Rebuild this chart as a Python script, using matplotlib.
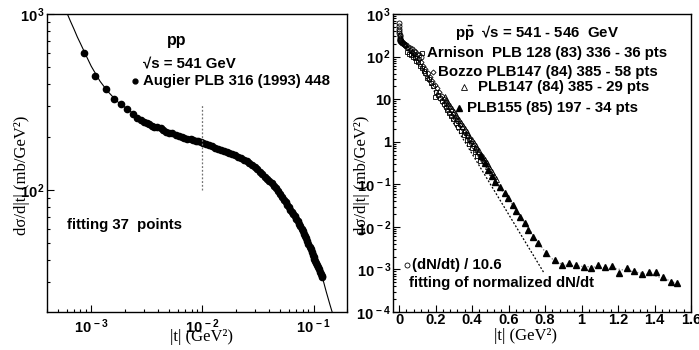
import numpy as np
import matplotlib
matplotlib.use("Agg")
import matplotlib.pyplot as plt
from matplotlib.lines import Line2D
from matplotlib.ticker import MultipleLocator, LogLocator, NullFormatter

plt.rcParams['font.family'] = ['Liberation Sans', 'DejaVu Sans']
plt.rcParams['font.weight'] = 'bold'
plt.rcParams['mathtext.fontset'] = 'custom'
plt.rcParams['mathtext.rm'] = 'Liberation Sans:bold'
plt.rcParams['mathtext.bf'] = 'Liberation Sans:bold'
plt.rcParams['mathtext.it'] = 'Liberation Sans:bold'
plt.rcParams['mathtext.default'] = 'rm'

# ---- left panel: Augier PLB 316 (1993) 448, sqrt(s) = 541 GeV
t_aug = [8.6e-4, 1.09e-3, 1.37e-3, 1.6e-3, 1.86e-3, 2.11e-3, 2.39e-3, 2.6e-3, 2.8e-3, 2.98e-3,
         3.15e-3, 3.3e-3, 3.5e-3, 3.67e-3, 3.9e-3, 4.2e-3, 4.45e-3, 4.67e-3, 5.0e-3, 5.36e-3,
         5.8e-3, 6.2e-3, 6.5e-3, 6.8e-3, 7.3e-3, 7.85e-3, 8.3e-3, 8.7e-3, 9.2e-3, 9.7e-3,
         0.0102, 0.0108, 0.0115, 0.0122, 0.013, 0.0138, 0.0146, 0.0155, 0.0165, 0.0175,
         0.0186, 0.0198, 0.021, 0.0222, 0.0235, 0.025, 0.0265, 0.028, 0.0295, 0.031,
         0.0327, 0.0345, 0.0363, 0.0382, 0.040, 0.042, 0.044, 0.046, 0.048, 0.050,
         0.052, 0.054, 0.056, 0.058, 0.060, 0.062, 0.064, 0.066, 0.068, 0.070,
         0.072, 0.074, 0.076, 0.078, 0.080, 0.082, 0.084, 0.086, 0.088, 0.090,
         0.092, 0.094, 0.096, 0.098, 0.100, 0.102, 0.104, 0.106, 0.108, 0.110,
         0.112, 0.114, 0.116, 0.118, 0.120]
y_aug = [603, 446, 375, 328, 307, 288, 270, 257, 249, 242,
         239, 236, 232, 229, 227, 224, 218, 214, 212, 210,
         205, 203, 199, 197, 196, 194, 192, 191, 189, 187,
         185, 182, 180, 177, 174, 171, 168, 166, 164, 163,
         161, 158, 155, 152, 149, 146, 142, 138, 134.5, 131,
         127, 123, 119, 115, 112, 109, 105.5, 102.5, 99, 95,
         91.5, 88, 85.3, 82.6, 80, 77.5, 75.2, 73, 70.8, 68.8,
         66.9, 64.5, 62.3, 60.3, 58.3, 56.6, 55.0, 53.1, 51.3, 49.5,
         47.8, 46.2, 44.6, 43, 41.5, 40.4, 39.4, 38.5, 37.4, 36.4,
         35.4, 34.4, 33.5, 32.7, 32.0]

t_fit = [6.1e-4, 6.5e-4, 7e-4, 7.5e-4, 8e-4, 9e-4, 1.0e-3, 1.2e-3, 1.4e-3, 1.7e-3, 2.0e-3,
         2.5e-3, 3e-3, 4e-3, 5e-3, 7e-3, 0.01, 0.015, 0.02, 0.025, 0.03, 0.04, 0.05,
         0.06, 0.07, 0.08, 0.09, 0.1, 0.11, 0.12, 0.13, 0.14, 0.148]
y_fit = [1000, 910, 820, 740, 680, 580, 505, 415, 365, 320, 296,
         266, 244, 226, 213, 197, 186, 167, 157, 146, 134, 112, 95,
         80, 68.8, 58.3, 49.5, 42, 36.4, 32, 26.5, 22.5, 20]

# ---- right panel: p pbar, sqrt(s) = 541 - 546 GeV
t_dn = [0.0008, 0.0012, 0.0016, 0.002, 0.0025, 0.003, 0.0035, 0.004, 0.005, 0.006,
        0.007, 0.008, 0.01, 0.012, 0.015, 0.018, 0.022, 0.026, 0.03, 0.035,
        0.04, 0.05, 0.06, 0.07, 0.08, 0.09, 0.1, 0.11, 0.12]
y_dn = [600, 510, 440, 390, 350, 320, 298, 280, 262, 250,
        242, 236, 228, 222, 216, 211, 205, 200, 195, 189,
        183, 172, 160, 148, 137, 126, 116, 106, 97]

t_arn = [0.045, 0.055, 0.065, 0.075, 0.085, 0.095, 0.105, 0.115, 0.125, 0.135,
         0.145, 0.155, 0.165, 0.175, 0.185, 0.195, 0.205, 0.215, 0.225, 0.235,
         0.245, 0.255, 0.265, 0.275, 0.285, 0.295, 0.31, 0.325, 0.34, 0.355,
         0.37, 0.385, 0.40, 0.415, 0.43, 0.445]
y_arn = [126, 118, 110, 100, 95, 80, 75, 60, 55, 45,
         41, 32, 29, 23.6, 20, 11.5, 14.5, 12.5, 10.8, 9.0,
         7.8, 6.6, 5.6, 4.8, 4.1, 3.5, 2.8, 2.2, 1.75, 1.4,
         1.1, 0.88, 0.7, 0.56, 0.45, 0.36]

t_boz = [0.032, 0.045, 0.058, 0.07, 0.083, 0.095, 0.108, 0.12, 0.133, 0.145,
         0.158, 0.17, 0.183, 0.195, 0.208, 0.22, 0.233, 0.245, 0.258, 0.27,
         0.283, 0.295, 0.308, 0.32, 0.333, 0.345, 0.358, 0.37, 0.383, 0.395,
         0.408, 0.42, 0.433, 0.445, 0.458, 0.47]
y_boz = [174, 158, 144, 131, 117, 105, 89, 74, 60, 50,
         41, 33, 27, 22, 18.2, 14.8, 12, 10, 8.1, 6.8,
         5.5, 4.5, 3.7, 3.1, 2.5, 2.1, 1.7, 1.4, 1.15, 0.95,
         0.79, 0.66, 0.54, 0.45, 0.36, 0.30]

t_b147 = [0.25, 0.26, 0.27, 0.28, 0.29, 0.30, 0.31, 0.32, 0.33, 0.34,
          0.35, 0.36, 0.37, 0.38, 0.39, 0.40, 0.41, 0.42, 0.43, 0.44,
          0.45, 0.46, 0.47, 0.48, 0.49, 0.50, 0.51, 0.52, 0.53]
y_b147 = [11.2, 9.5, 8.1, 6.9, 5.9, 5.0, 4.3, 3.7, 3.2, 2.7,
          2.3, 2.0, 1.7, 1.45, 1.24, 1.07, 0.92, 0.79, 0.68, 0.59,
          0.50, 0.43, 0.37, 0.32, 0.27, 0.23, 0.19, 0.16, 0.13]

t_b155 = [0.45, 0.47, 0.49, 0.51, 0.525, 0.552, 0.579, 0.597, 0.625, 0.643,
          0.661, 0.689, 0.707, 0.734, 0.761, 0.807, 0.852, 0.894, 0.934, 0.971,
          1.011, 1.053, 1.089, 1.131, 1.168, 1.208, 1.25, 1.29, 1.332, 1.368,
          1.408, 1.444, 1.49, 1.526]
y_b155 = [0.45, 0.31, 0.22, 0.155, 0.116, 0.088, 0.062, 0.047, 0.033, 0.023,
          0.0175, 0.0122, 0.0085, 0.0059, 0.0041, 0.0024, 0.00168, 0.00128, 0.00141, 0.00128,
          0.00117, 0.00107, 0.00128, 0.00117, 0.00122, 0.00082, 0.00107, 0.00094, 0.00079, 0.00089,
          0.00089, 0.00066, 0.00052, 0.00048]

t_norm = [0.0, 0.795]
y_norm = [360, 8.2e-4]

t_full = [0.3, 0.4, 0.45, 0.5, 0.55, 0.6, 0.65, 0.7, 0.75, 0.8, 0.85, 0.9,
          1.0, 1.1, 1.2, 1.3, 1.4, 1.45, 1.53]
y_full = [4.5, 0.95, 0.45, 0.2, 0.085, 0.045, 0.022, 0.0105, 0.0052, 0.0026, 0.0016, 0.00128,
          0.00118, 0.00112, 0.00102, 0.00086, 0.00071, 0.00062, 0.00045]

W, H = 699, 350


def fx(px):
    return px / W


def fy(py):
    return 1 - py / H


fig = plt.figure(figsize=(6.99, 3.5), dpi=100)
ax1 = fig.add_axes([fx(47), fy(312), 300 / W, 298 / H])
ax2 = fig.add_axes([fx(393), fy(312), 298 / W, 298 / H])

# left panel
ax1.plot(t_fit, y_fit, color='black', lw=0.8)
ax1.plot(t_aug, y_aug, 'o', color='black', ms=4.5, mec='black')
ax1.plot([0.01, 0.01], [100, 310], color='0.45', lw=0.9, ls=(0, (1.5, 1.5)))
ax1.set_xscale('log')
ax1.set_yscale('log')
ax1.set_xlim(4e-4, 0.2)
ax1.set_ylim(20.3, 1000)
ax1.set_xticks([1e-3, 1e-2, 1e-1], [r'$10^{\,-3}$', r'$10^{\,-2}$', r'$10^{\,-1}$'])
ax1.set_yticks([100, 1000], [r'$10^{\,2}$', r'$10^{\,3}$'])
ax1.xaxis.set_minor_formatter(NullFormatter())
ax1.yaxis.set_minor_formatter(NullFormatter())
ax1.tick_params(which='both', direction='in', labelsize=10.5, top=False, right=False)
ax1.tick_params(which='major', length=5, width=0.8)
ax1.tick_params(which='minor', length=2.5, width=0.8)
ax1.tick_params(axis='x', pad=4)
ax1.tick_params(axis='y', pad=1)

# right panel
ax2.plot(t_norm, y_norm, color='black', lw=0.9, ls=(0, (1.5, 1.5)))
ax2.plot(t_full, y_full, color='0.5', lw=0.9, ls=(0, (1, 1.5)))
ax2.plot(t_arn, y_arn, 's', mfc='none', mec='black', ms=3.5, mew=0.6)
ax2.plot(t_boz, y_boz, 'D', mfc='none', mec='black', ms=2.6, mew=0.6)
ax2.plot(t_b147, y_b147, '^', mfc='none', mec='black', ms=3.8, mew=0.6)
ax2.plot(t_dn, y_dn, 'o', mfc='none', mec='black', ms=3.6, mew=0.6)
ax2.plot(t_b155, y_b155, '^', color='black', ms=4.2)
ax2.set_yscale('log')
ax2.set_xlim(-0.033, 1.596)
ax2.set_ylim(1e-4, 1e3)
ax2.set_xticks([0, 0.2, 0.4, 0.6, 0.8, 1.0, 1.2, 1.4, 1.6],
               ['0', '0.2', '0.4', '0.6', '0.8', '1', '1.2', '1.4', '1.6'])
ax2.xaxis.set_minor_locator(MultipleLocator(0.04))
ax2.set_yticks([1e-4, 1e-3, 1e-2, 1e-1, 1, 10, 100, 1000],
               [r'$10^{\,-4}$', r'$10^{\,-3}$', r'$10^{\,-2}$', r'$10^{\,-1}$',
                '1', '10', r'$10^{\,2}$', r'$10^{\,3}$'])
ax2.yaxis.set_minor_locator(LogLocator(base=10, subs=np.arange(2, 10), numticks=20))
ax2.yaxis.set_minor_formatter(NullFormatter())
ax2.tick_params(which='both', direction='in', labelsize=10.5, top=False, right=False)
ax2.tick_params(which='major', length=5, width=0.8)
ax2.tick_params(which='minor', length=2.5, width=0.8)
ax2.tick_params(axis='x', pad=0.5)
ax2.tick_params(axis='y', pad=1)

for ax in (ax1, ax2):
    for s in ax.spines.values():
        s.set_linewidth(1.0)

# axis titles
serif = ['Liberation Serif', 'DejaVu Serif']
ylab = 'd\u03c3/d|t| (mb/GeV\u00b2)'
xlab = '|t| (GeV\u00b2)'
fig.text(fx(22), fy(175), ylab, rotation=90, ha='center', va='center',
         family=serif, fontsize=12, fontweight='normal')
fig.text(fx(362), fy(175), ylab, rotation=90, ha='center', va='center',
         family=serif, fontsize=12, fontweight='normal')
fig.text(fx(202), fy(337), xlab, ha='center', va='center', family=serif, fontsize=12,
         fontweight='normal')
fig.text(fx(525), fy(336), xlab, ha='center', va='center', family=serif, fontsize=12,
         fontweight='normal')

# left annotations
fs = 10.8
fig.text(fx(167), fy(40), 'pp', ha='left', va='center', fontsize=11.5)
fig.text(fx(143), fy(63), '\u221as = 541 GeV', ha='left', va='center', fontsize=fs)
fig.add_artist(Line2D([fx(135)], [fy(81)], marker='o', color='black', ms=3.5,
                      transform=fig.transFigure))
fig.text(fx(143), fy(81), 'Augier PLB 316 (1993) 448', ha='left', va='center', fontsize=fs)
fig.text(fx(67), fy(225), 'fitting 37  points', ha='left', va='center', fontsize=fs)

# right annotations
fig.text(fx(455), fy(33), r'$p\bar{p}$' + '  \u221as = 541 - 546  GeV', ha='left', va='center',
         fontsize=fs)
fig.add_artist(Line2D([fx(421.7)], [fy(53.3)], marker='s', mfc='none', mec='black', ms=3.5,
                      mew=0.6, transform=fig.transFigure))
fig.text(fx(427), fy(53), 'Arnison  PLB 128 (83) 336 - 36 pts', ha='left', va='center',
         fontsize=fs)
fig.add_artist(Line2D([fx(433)], [fy(71.7)], marker='D', mfc='none', mec='black', ms=2.6,
                      mew=0.6, transform=fig.transFigure))
fig.text(fx(438), fy(72), 'Bozzo PLB147 (84) 385 - 58 pts', ha='left', va='center', fontsize=fs)
fig.add_artist(Line2D([fx(464)], [fy(86.7)], marker='^', mfc='none', mec='black', ms=3.8,
                      mew=0.6, transform=fig.transFigure))
fig.text(fx(478), fy(87), 'PLB147 (84) 385 - 29 pts', ha='left', va='center', fontsize=fs)
fig.add_artist(Line2D([fx(459)], [fy(108.3)], marker='^', color='black', ms=4.2,
                      transform=fig.transFigure))
fig.text(fx(467), fy(108), 'PLB155 (85) 197 - 34 pts', ha='left', va='center', fontsize=fs)
fig.add_artist(Line2D([fx(407.3)], [fy(265)], marker='o', mfc='none', mec='black', ms=3.6,
                      mew=0.6, transform=fig.transFigure))
fig.text(fx(412), fy(265), '(dN/dt) / 10.6', ha='left', va='center', fontsize=fs)
fig.text(fx(409), fy(283), 'fitting of normalized dN/dt', ha='left', va='center', fontsize=fs)

fig.savefig('out.png', dpi=100)
